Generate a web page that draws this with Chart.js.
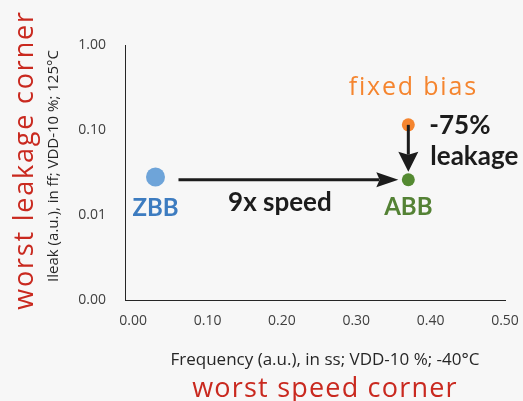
<!DOCTYPE html>
<html>
<head>
<meta charset="utf-8">
<script src="https://cdn.jsdelivr.net/npm/chart.js@4.4.1/dist/chart.umd.min.js"></script>
<style>
  html, body { margin: 0; padding: 0; background: #f7f7f7; }
  #wrap { position: relative; width: 523px; height: 401px; }
</style>
</head>
<body>
<div id="wrap"><canvas id="chart" width="523" height="401"></canvas></div>
<script>
/* ---------- Data ---------- */
const xTicks = [0, 0.1, 0.2, 0.3, 0.4, 0.5];
const yTicks = [0.001, 0.01, 0.1, 1];
const pointNames = ['ZBB', 'fixed bias', 'ABB'];
const freq = [0.03, 0.37, 0.37];      // Frequency (a.u.)
const leak = [0.028, 0.115, 0.026];   // Ileak (a.u.)
const pointColors = ['#6ea4d9', '#f5852f', '#548a31'];
const pointSizes = [9.5, 6.5, 6.5];

const RED = '#c9291f';
const INK = '#1c1c1c';

/* ---------- Helpers ---------- */
function arrow(ctx, x1, y1, x2, y2, len, half) {
  const a = Math.atan2(y2 - y1, x2 - x1);
  const cos = Math.cos(a), sin = Math.sin(a);
  const bx = x2 - cos * len, by = y2 - sin * len;
  ctx.beginPath();
  ctx.moveTo(x1, y1);
  ctx.lineTo(bx + cos * 3, by + sin * 3);
  ctx.stroke();
  ctx.beginPath();
  ctx.moveTo(x2, y2);
  ctx.lineTo(bx - sin * half, by + cos * half);
  ctx.lineTo(x2 - cos * len * 0.85, y2 - sin * len * 0.85);
  ctx.lineTo(bx + sin * half, by - cos * half);
  ctx.closePath();
  ctx.fill();
}

function label(ctx, text, x, y, font, color, align, base, spacing) {
  ctx.save();
  ctx.font = font;
  ctx.fillStyle = color;
  ctx.textAlign = align || 'center';
  ctx.textBaseline = base || 'middle';
  if (spacing) ctx.letterSpacing = spacing;
  ctx.fillText(text, x, y);
  ctx.restore();
}

function vlabel(ctx, text, x, y, font, color, spacing) {
  ctx.save();
  ctx.translate(x, y);
  ctx.rotate(-Math.PI / 2);
  label(ctx, text, 0, 0, font, color, 'center', 'alphabetic', spacing);
  ctx.restore();
}

// keep tick-label overhang from shrinking the plot area
function noPad(s) {
  s.paddingLeft = s.paddingRight = s.paddingTop = s.paddingBottom = 0;
}

/* ---------- Annotations plugin ---------- */
const annotate = {
  id: 'annotate',
  afterDatasetsDraw(chart) {
    const ctx = chart.ctx;
    const xs = chart.scales.x, ys = chart.scales.y;
    const p = freq.map((f, i) => ({ x: xs.getPixelForValue(f), y: ys.getPixelForValue(leak[i]) }));
    const [zbb, fix, abb] = p;

    ctx.save();
    ctx.strokeStyle = INK;
    ctx.fillStyle = INK;
    ctx.lineWidth = 3;
    arrow(ctx, zbb.x + 23, abb.y, abb.x - 10, abb.y, 22, 7.5);
    arrow(ctx, fix.x, fix.y, fix.x, abb.y - 8, 20, 10);
    ctx.restore();

    label(ctx, pointNames[0], zbb.x, zbb.y + 31, 'bold 24px Lato', '#3d7cc0');
    label(ctx, pointNames[2], abb.x, abb.y + 28, 'bold 24px Lato', '#548235');
    label(ctx, '9x speed', (zbb.x + abb.x) / 2 - 2, abb.y + 23, 'bold 26px Lato', INK);
    label(ctx, pointNames[1], fix.x + 5, fix.y - 37, '25px "Open Sans"', '#f5852f', 'center', 'middle', '1.8px');
    label(ctx, '-75%', fix.x + 21, fix.y + 1, 'bold 26px Lato', INK, 'left');
    label(ctx, 'leakage', fix.x + 22, fix.y + 32, 'bold 26px Lato', INK, 'left');
  },
  afterDraw(chart) {
    const ctx = chart.ctx;
    vlabel(ctx, 'worst leakage corner', 33, 160, '27px "Open Sans"', RED, '1.8px');
    vlabel(ctx, 'Ileak (a.u.), in ff; VDD-10 %; 125°C', 58, 166, '15px "Open Sans"', '#262626');
    label(ctx, 'Frequency (a.u.), in ss; VDD-10 %; -40°C', 325, 365, '17px "Open Sans"', '#262626', 'center', 'alphabetic');
    label(ctx, 'worst speed corner', 325, 397, '27px "Open Sans"', RED, 'center', 'alphabetic', '1.2px');
  }
};

/* ---------- Chart ---------- */
const tickFont = { family: 'Open Sans', size: 14 };

new Chart(document.getElementById('chart'), {
  type: 'scatter',
  data: {
    datasets: pointNames.map((name, i) => ({
      label: name,
      data: [{ x: freq[i], y: leak[i] }],
      backgroundColor: pointColors[i],
      borderWidth: 0,
      pointRadius: pointSizes[i],
      pointHoverRadius: pointSizes[i],
      clip: false
    }))
  },
  options: {
    responsive: false,
    animation: false,
    devicePixelRatio: 1,
    layout: { padding: { top: 45, right: 18, left: 0, bottom: 0 }, autoPadding: false },
    plugins: { legend: { display: false }, tooltip: { enabled: false } },
    scales: {
      x: {
        type: 'linear',
        min: -0.011,
        max: 0.5,
        afterBuildTicks: s => { s.ticks = xTicks.map(v => ({ value: v })); },
        afterFit: s => { s.height = 101; noPad(s); },
        grid: { display: false, drawTicks: false },
        border: { display: true, color: '#262626', width: 1 },
        ticks: { font: tickFont, color: '#404040', padding: 13, maxRotation: 0, callback: v => v.toFixed(2) }
      },
      y: {
        type: 'logarithmic',
        min: 0.001,
        max: 1,
        afterBuildTicks: s => { s.ticks = yTicks.map(v => ({ value: v })); },
        afterFit: s => { s.width = 125; noPad(s); },
        grid: { display: false, drawTicks: false },
        border: { display: true, color: '#262626', width: 1 },
        ticks: { font: tickFont, color: '#404040', padding: 19, callback: v => v.toFixed(2) }
      }
    }
  },
  plugins: [annotate]
});
</script>
</body>
</html>
